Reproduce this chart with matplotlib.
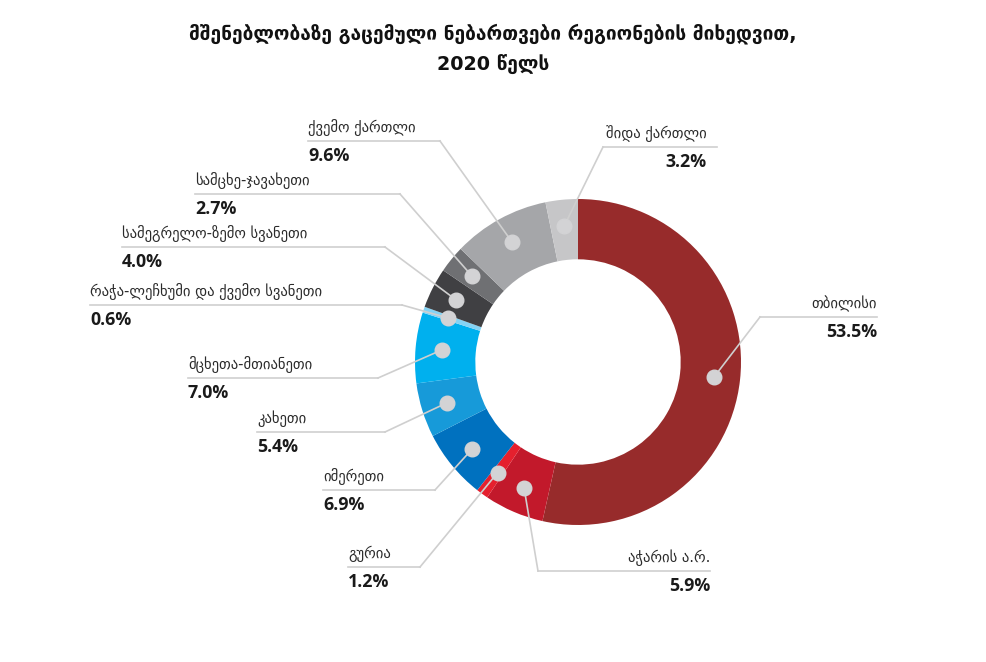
import numpy as np
import matplotlib.pyplot as plt

# data
regions = ["თბილისი", "აჭარის ა.რ.", "გურია", "იმერეთი", "კახეთი",
           "მცხეთა-მთიანეთი", "რაჭა-ლეჩხუმი და ქვემო სვანეთი",
           "სამეგრელო-ზემო სვანეთი", "სამცხე-ჯავახეთი", "ქვემო ქართლი",
           "შიდა ქართლი"]
shares = [53.5, 5.9, 1.2, 6.9, 5.4, 7.0, 0.6, 4.0, 2.7, 9.6, 3.2]
colors = ["#972b2b", "#c2192b", "#e5202e", "#0071bf", "#179ad9",
          "#00b0ee", "#85d3f4", "#404043", "#6f7073", "#a5a6a9", "#c6c6c8"]

title = "მშენებლობაზე გაცემული ნებართვები რეგიონების მიხედვით,\n2020 წელს"

# label layout in pixels (y measured from top): side, text edge x, line y, elbow x, line end x
layout = [
    ("R", 877, 317, 760, 877),
    ("R", 710, 571, 538, 710),
    ("L", 348, 567, 420, 348),
    ("L", 323, 490, 435, 323),
    ("L", 257, 432, 385, 257),
    ("L", 188, 378, 378, 188),
    ("L", 90, 305, 402, 90),
    ("L", 122, 247, 385, 122),
    ("L", 195, 194, 400, 195),
    ("L", 308, 141, 440, 308),
    ("R", 707, 147, 603, 717),
]

W, H = 986, 662
cx, cy, R = 578, H - 362, 163
ring = 0.37

fig = plt.figure(figsize=(9.86, 6.62), dpi=100)
ax = fig.add_axes([0, 0, 1, 1])

wedges, _ = ax.pie(shares, colors=colors, startangle=90, counterclock=False,
                   radius=R, center=(cx, cy),
                   wedgeprops=dict(width=R * ring, linewidth=0))
ax.set_xlim(0, W)
ax.set_ylim(0, H)
ax.set_aspect("equal")
ax.axis("off")

line_c = "#cfcfcf"
r_dot = R * (1 - ring / 2) + 4
for w, name, val, (side, tx, ly, ex, lend) in zip(wedges, regions, shares, layout):
    ang = np.deg2rad((w.theta1 + w.theta2) / 2)
    dx, dy = cx + r_dot * np.cos(ang), cy + r_dot * np.sin(ang)
    y = H - ly
    ax.plot([dx, ex], [dy, y], color=line_c, lw=1.2, zorder=3)
    ax.plot([ex, lend], [y, y], color=line_c, lw=1.2, zorder=3)
    ax.plot(dx, dy, "o", ms=10.5, color="#d3d3d5", mec="#d3d3d5", zorder=4)
    ha = "left" if side == "L" else "right"
    ax.text(tx, y + 5, name, ha=ha, va="bottom", fontsize=10.5, color="#2b2b2b")
    ax.text(tx, y - 6, f"{val:.1f}%", ha=ha, va="top", fontsize=12.8,
            fontweight="bold", color="#1a1a1a", family="Open Sans")

ax.text(493, H - 49, title, ha="center", va="center", fontsize=13.8,
        fontweight="bold", color="#111111", linespacing=1.65)

fig.savefig("out.png", dpi=100)
